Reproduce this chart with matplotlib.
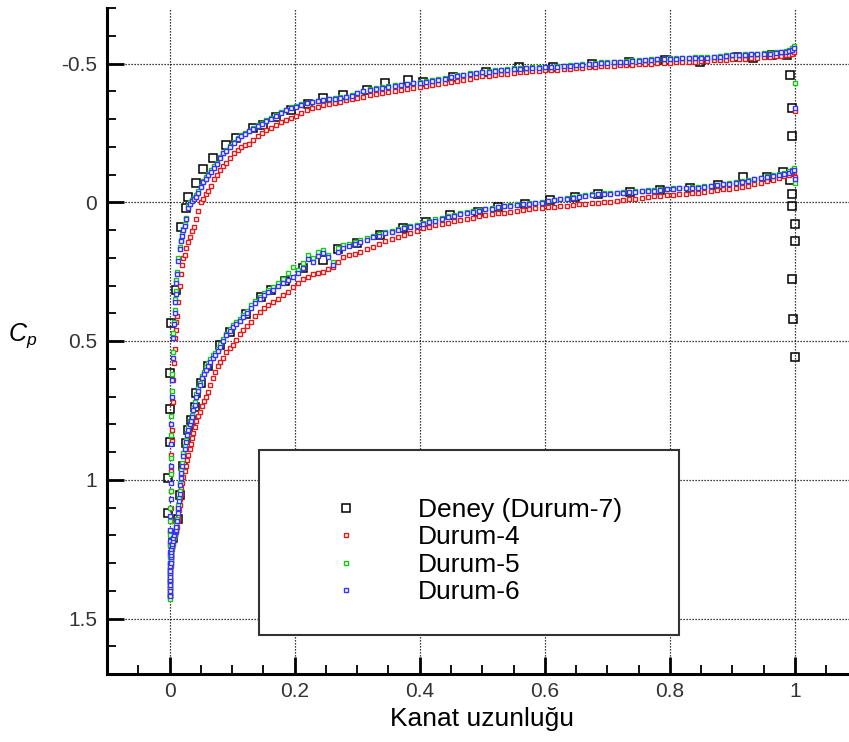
import numpy as np
import matplotlib
matplotlib.use("Agg")
import matplotlib.pyplot as plt
from matplotlib.patches import Rectangle
from matplotlib.ticker import FixedLocator, FixedFormatter, MultipleLocator

plt.rcParams['font.family'] = ['Liberation Sans', 'DejaVu Sans']
plt.rcParams['mathtext.fontset'] = 'custom'
plt.rcParams['mathtext.it'] = 'Liberation Sans:italic'
plt.rcParams['mathtext.rm'] = 'Liberation Sans'

# ---- series labels and tick labels ----
series_labels = ['Deney (Durum-7)', 'Durum-4', 'Durum-5', 'Durum-6']
x_ticks = [0, 0.2, 0.4, 0.6, 0.8, 1.0]
x_tick_labels = ['0', '0.2', '0.4', '0.6', '0.8', '1']
y_ticks = [-0.5, 0, 0.5, 1.0, 1.5]
y_tick_labels = ['-0.5', '0', '0.5', '1', '1.5']

# ---- experiment (Durum-7) ----
x_exp_upper = [-0.002, -0.003, 0.000, 0.000, 0.001, 0.003, 0.011, 0.018, 0.026, 0.030,
               0.043, 0.054, 0.070, 0.091, 0.107, 0.133, 0.149, 0.171, 0.195, 0.221,
               0.246, 0.277, 0.315, 0.344, 0.381, 0.405, 0.453, 0.506, 0.558, 0.613,
               0.675, 0.734, 0.792, 0.848, 0.907, 0.933, 0.963, 0.987, 0.992, 0.995,
               0.995]
cp_exp_upper = [1.12, 0.993, 0.864, 0.745, 0.615, 0.435, 0.317, 0.09, 0.022, -0.02,
                -0.07, -0.12, -0.16, -0.205, -0.233, -0.267, -0.28, -0.306, -0.334, -0.355,
                -0.377, -0.385, -0.406, -0.428, -0.44, -0.435, -0.45, -0.468, -0.486, -0.486,
                -0.5, -0.504, -0.511, -0.507, -0.522, -0.52, -0.53, -0.53, -0.457, -0.338,
                -0.24]
x_exp_lower = [0.005, 0.013, 0.016, 0.021, 0.027, 0.029, 0.035, 0.040, 0.043, 0.051,
               0.062, 0.080, 0.096, 0.123, 0.147, 0.163, 0.184, 0.214, 0.245, 0.270,
               0.300, 0.336, 0.373, 0.410, 0.448, 0.493, 0.525, 0.568, 0.608, 0.648,
               0.685, 0.736, 0.784, 0.832, 0.877, 0.917, 0.955, 0.981, 0.992, 0.995,
               0.995, 1.000, 1.000, 0.995, 0.997, 1.000]
cp_exp_lower = [1.21, 1.14, 1.054, 0.95, 0.867, 0.82, 0.784, 0.737, 0.687, 0.651,
                0.59, 0.515, 0.468, 0.403, 0.342, 0.317, 0.284, 0.237, 0.209, 0.17,
                0.148, 0.119, 0.094, 0.072, 0.047, 0.036, 0.018, 0.007, -0.007, -0.018,
                -0.029, -0.036, -0.043, -0.05, -0.061, -0.09, -0.09, -0.108, -0.08, -0.03,
                0.014, 0.077, 0.14, 0.277, 0.42, 0.557]

# ---- CFD surface nodes (shared by Durum-4/5/6) ----
x_upper = [0.000, 0.000, 0.000, 0.000, 0.001, 0.001, 0.001, 0.001, 0.002, 0.002,
           0.002, 0.003, 0.003, 0.004, 0.004, 0.005, 0.006, 0.007, 0.008, 0.009,
           0.010, 0.011, 0.012, 0.014, 0.016, 0.018, 0.020, 0.022, 0.024, 0.027,
           0.030, 0.033, 0.036, 0.039, 0.042, 0.046, 0.050, 0.054, 0.058, 0.062,
           0.066, 0.071, 0.076, 0.081, 0.086, 0.091, 0.097, 0.103, 0.109, 0.115,
           0.121, 0.127, 0.134, 0.141, 0.148, 0.155, 0.162, 0.170, 0.178, 0.186,
           0.194, 0.202, 0.210, 0.219, 0.228, 0.237, 0.246, 0.255, 0.264, 0.273,
           0.282, 0.291, 0.300, 0.310, 0.320, 0.330, 0.340, 0.350, 0.360, 0.370,
           0.380, 0.390, 0.400, 0.410, 0.420, 0.430, 0.440, 0.450, 0.460, 0.470,
           0.480, 0.490, 0.500, 0.510, 0.520, 0.530, 0.540, 0.550, 0.560, 0.570,
           0.580, 0.590, 0.600, 0.610, 0.620, 0.630, 0.640, 0.650, 0.660, 0.670,
           0.680, 0.690, 0.700, 0.710, 0.720, 0.730, 0.740, 0.750, 0.760, 0.770,
           0.780, 0.790, 0.800, 0.810, 0.820, 0.830, 0.840, 0.850, 0.860, 0.870,
           0.880, 0.890, 0.900, 0.910, 0.920, 0.930, 0.940, 0.950, 0.960, 0.970,
           0.978, 0.985, 0.991, 0.996, 0.999, 1.000]
x_lower = [0.000, 0.000, 0.000, 0.000, 0.001, 0.001, 0.001, 0.002, 0.002, 0.002,
           0.003, 0.003, 0.004, 0.004, 0.005, 0.006, 0.007, 0.008, 0.009, 0.010,
           0.011, 0.012, 0.013, 0.014, 0.015, 0.016, 0.017, 0.018, 0.019, 0.020,
           0.022, 0.024, 0.026, 0.028, 0.030, 0.032, 0.034, 0.036, 0.038, 0.040,
           0.043, 0.046, 0.049, 0.052, 0.055, 0.058, 0.061, 0.065, 0.069, 0.073,
           0.077, 0.081, 0.086, 0.091, 0.096, 0.101, 0.106, 0.112, 0.118, 0.124,
           0.130, 0.137, 0.144, 0.151, 0.158, 0.165, 0.173, 0.181, 0.189, 0.197,
           0.205, 0.213, 0.221, 0.229, 0.237, 0.245, 0.253, 0.261, 0.269, 0.278,
           0.287, 0.296, 0.305, 0.315, 0.325, 0.335, 0.345, 0.355, 0.365, 0.375,
           0.385, 0.395, 0.405, 0.415, 0.425, 0.435, 0.445, 0.455, 0.465, 0.475,
           0.485, 0.495, 0.505, 0.515, 0.525, 0.535, 0.545, 0.555, 0.565, 0.575,
           0.585, 0.595, 0.605, 0.615, 0.625, 0.635, 0.645, 0.655, 0.665, 0.675,
           0.685, 0.695, 0.705, 0.715, 0.725, 0.735, 0.745, 0.755, 0.765, 0.775,
           0.785, 0.795, 0.805, 0.815, 0.825, 0.835, 0.845, 0.855, 0.865, 0.875,
           0.885, 0.895, 0.905, 0.915, 0.925, 0.935, 0.945, 0.955, 0.965, 0.975,
           0.983, 0.990, 0.995, 0.999, 1.000]

# ---- Durum-4 ----
cp4_upper = [1.42, 1.39, 1.36, 1.33, 1.30, 1.27, 1.23, 1.19, 1.15, 1.10,
             1.04, 0.97, 0.91, 0.86, 0.82, 0.72, 0.64, 0.58, 0.53, 0.49,
             0.46, 0.43, 0.41, 0.36, 0.30, 0.26, 0.225, 0.20, 0.19, 0.165,
             0.145, 0.125, 0.105, 0.09, 0.06, 0.03, 0.0, -0.012, -0.028, -0.042,
             -0.058, -0.085, -0.1, -0.115, -0.13, -0.14, -0.16, -0.177, -0.19, -0.198,
             -0.205, -0.211, -0.225, -0.238, -0.25, -0.26, -0.268, -0.278, -0.288, -0.296,
             -0.304, -0.311, -0.32, -0.332, -0.341, -0.345, -0.349, -0.353, -0.358, -0.363,
             -0.368, -0.372, -0.376, -0.381, -0.386, -0.39, -0.394, -0.397, -0.401, -0.404,
             -0.408, -0.412, -0.417, -0.42, -0.423, -0.426, -0.429, -0.433, -0.437, -0.441,
             -0.445, -0.45, -0.454, -0.456, -0.458, -0.461, -0.463, -0.466, -0.468, -0.47,
             -0.472, -0.474, -0.475, -0.477, -0.478, -0.48, -0.481, -0.483, -0.484, -0.486,
             -0.488, -0.49, -0.491, -0.492, -0.494, -0.495, -0.496, -0.497, -0.498, -0.5,
             -0.501, -0.502, -0.503, -0.504, -0.505, -0.506, -0.507, -0.508, -0.509, -0.511,
             -0.512, -0.514, -0.515, -0.517, -0.518, -0.52, -0.521, -0.523, -0.524, -0.526,
             -0.528, -0.53, -0.532, -0.535, -0.54, -0.33]
cp4_lower = [1.42, 1.40, 1.39, 1.37, 1.36, 1.34, 1.32, 1.31, 1.29, 1.28,
             1.27, 1.26, 1.25, 1.24, 1.23, 1.22, 1.21, 1.20, 1.195, 1.19,
             1.18, 1.17, 1.15, 1.13, 1.11, 1.09, 1.07, 1.05, 1.03, 1.01,
             0.99, 0.97, 0.95, 0.93, 0.91, 0.89, 0.87, 0.85, 0.83, 0.81,
             0.79, 0.77, 0.755, 0.735, 0.715, 0.70, 0.685, 0.66, 0.635, 0.61,
             0.59, 0.575, 0.56, 0.54, 0.525, 0.514, 0.495, 0.475, 0.46, 0.445,
             0.43, 0.41, 0.395, 0.38, 0.37, 0.36, 0.348, 0.335, 0.322, 0.305,
             0.29, 0.278, 0.27, 0.26, 0.255, 0.25, 0.242, 0.234, 0.215, 0.198,
             0.19, 0.185, 0.178, 0.17, 0.162, 0.152, 0.14, 0.133, 0.125, 0.118,
             0.11, 0.102, 0.094, 0.088, 0.083, 0.078, 0.073, 0.068, 0.064, 0.06,
             0.055, 0.05, 0.046, 0.043, 0.04, 0.037, 0.034, 0.031, 0.028, 0.025,
             0.022, 0.02, 0.018, 0.016, 0.014, 0.012, 0.01, 0.008, 0.006, 0.004,
             0.002, 0.0, -0.002, -0.005, -0.008, -0.01, -0.013, -0.016, -0.018, -0.021,
             -0.023, -0.025, -0.026, -0.028, -0.03, -0.033, -0.035, -0.038, -0.041, -0.044,
             -0.046, -0.048, -0.051, -0.055, -0.059, -0.064, -0.069, -0.075, -0.081, -0.088,
             -0.094, -0.1, -0.105, -0.11, -0.09]

# ---- Durum-5 ----
cp5_upper = [1.42, 1.37, 1.32, 1.28, 1.24, 1.20, 1.15, 1.10, 1.04, 0.98,
             0.92, 0.84, 0.77, 0.68, 0.62, 0.54, 0.47, 0.43, 0.39, 0.35,
             0.32, 0.28, 0.25, 0.20, 0.16, 0.135, 0.115, 0.095, 0.08, 0.055,
             0.015, 0.0, -0.008, -0.015, -0.025, -0.042, -0.06, -0.075, -0.09, -0.102,
             -0.115, -0.13, -0.143, -0.162, -0.178, -0.19, -0.204, -0.217, -0.232, -0.241,
             -0.25, -0.258, -0.268, -0.278, -0.287, -0.296, -0.304, -0.316, -0.326, -0.334,
             -0.342, -0.347, -0.353, -0.358, -0.362, -0.366, -0.37, -0.373, -0.376, -0.379,
             -0.381, -0.387, -0.394, -0.402, -0.407, -0.411, -0.415, -0.419, -0.421, -0.424,
             -0.427, -0.43, -0.433, -0.437, -0.44, -0.443, -0.446, -0.452, -0.457, -0.46,
             -0.464, -0.467, -0.47, -0.472, -0.475, -0.477, -0.479, -0.482, -0.483, -0.485,
             -0.486, -0.487, -0.488, -0.489, -0.491, -0.492, -0.493, -0.495, -0.498, -0.5,
             -0.502, -0.504, -0.505, -0.506, -0.507, -0.509, -0.511, -0.512, -0.513, -0.515,
             -0.517, -0.518, -0.52, -0.52, -0.521, -0.521, -0.522, -0.522, -0.523, -0.525,
             -0.527, -0.529, -0.531, -0.532, -0.534, -0.535, -0.536, -0.537, -0.538, -0.54,
             -0.543, -0.545, -0.549, -0.555, -0.563, -0.43]
cp5_lower = [1.43, 1.41, 1.39, 1.37, 1.355, 1.34, 1.32, 1.30, 1.29, 1.275,
             1.265, 1.255, 1.245, 1.235, 1.225, 1.215, 1.205, 1.195, 1.185, 1.175,
             1.16, 1.14, 1.11, 1.09, 1.065, 1.04, 1.01, 0.985, 0.965, 0.94,
             0.905, 0.88, 0.855, 0.83, 0.81, 0.79, 0.78, 0.765, 0.74, 0.72,
             0.69, 0.67, 0.65, 0.625, 0.61, 0.595, 0.58, 0.565, 0.552, 0.542,
             0.528, 0.512, 0.493, 0.473, 0.458, 0.443, 0.433, 0.42, 0.407, 0.392,
             0.372, 0.355, 0.34, 0.328, 0.318, 0.305, 0.29, 0.277, 0.255, 0.232,
             0.245, 0.22, 0.19, 0.2, 0.178, 0.173, 0.19, 0.216, 0.165, 0.155,
             0.15, 0.143, 0.137, 0.13, 0.123, 0.116, 0.108, 0.102, 0.096, 0.09,
             0.085, 0.081, 0.075, 0.068, 0.062, 0.056, 0.05, 0.045, 0.04, 0.035,
             0.031, 0.027, 0.023, 0.02, 0.016, 0.013, 0.01, 0.007, 0.005, 0.003,
             0.001, -0.002, -0.005, -0.009, -0.012, -0.015, -0.019, -0.022, -0.025, -0.028,
             -0.031, -0.032, -0.033, -0.035, -0.037, -0.038, -0.04, -0.041, -0.043, -0.045,
             -0.047, -0.049, -0.051, -0.052, -0.053, -0.054, -0.056, -0.058, -0.06, -0.063,
             -0.066, -0.07, -0.073, -0.077, -0.081, -0.085, -0.089, -0.093, -0.097, -0.102,
             -0.106, -0.111, -0.117, -0.125, -0.07]

# ---- Durum-6 ----
cp6_upper = [1.41, 1.38, 1.34, 1.30, 1.26, 1.22, 1.18, 1.13, 1.07, 1.01,
             0.95, 0.87, 0.80, 0.70, 0.64, 0.56, 0.49, 0.44, 0.40, 0.36,
             0.33, 0.29, 0.26, 0.21, 0.17, 0.14, 0.12, 0.10, 0.085, 0.06,
             0.02, 0.005, -0.003, -0.01, -0.018, -0.035, -0.055, -0.072, -0.085, -0.098,
             -0.11, -0.125, -0.138, -0.158, -0.176, -0.185, -0.2, -0.212, -0.228, -0.237,
             -0.246, -0.255, -0.263, -0.274, -0.283, -0.292, -0.3, -0.311, -0.322, -0.331,
             -0.339, -0.344, -0.35, -0.356, -0.36, -0.364, -0.368, -0.371, -0.373, -0.376,
             -0.378, -0.384, -0.392, -0.4, -0.405, -0.409, -0.413, -0.417, -0.419, -0.422,
             -0.425, -0.428, -0.431, -0.435, -0.438, -0.441, -0.444, -0.45, -0.455, -0.458,
             -0.462, -0.465, -0.468, -0.47, -0.473, -0.475, -0.477, -0.48, -0.481, -0.483,
             -0.484, -0.485, -0.486, -0.487, -0.489, -0.49, -0.491, -0.493, -0.496, -0.498,
             -0.5, -0.502, -0.503, -0.504, -0.505, -0.507, -0.509, -0.51, -0.511, -0.513,
             -0.515, -0.516, -0.518, -0.518, -0.519, -0.519, -0.52, -0.52, -0.521, -0.523,
             -0.525, -0.527, -0.529, -0.53, -0.532, -0.533, -0.534, -0.535, -0.536, -0.538,
             -0.54, -0.541, -0.544, -0.549, -0.555, -0.34]
cp6_lower = [1.42, 1.40, 1.38, 1.36, 1.35, 1.33, 1.31, 1.30, 1.28, 1.27,
             1.26, 1.25, 1.24, 1.23, 1.22, 1.21, 1.20, 1.19, 1.185, 1.18,
             1.17, 1.15, 1.12, 1.10, 1.075, 1.05, 1.02, 0.995, 0.975, 0.95,
             0.915, 0.89, 0.865, 0.84, 0.82, 0.80, 0.79, 0.775, 0.75, 0.73,
             0.70, 0.68, 0.66, 0.635, 0.62, 0.605, 0.59, 0.575, 0.56, 0.55,
             0.535, 0.52, 0.50, 0.48, 0.465, 0.45, 0.44, 0.428, 0.415, 0.40,
             0.38, 0.362, 0.347, 0.335, 0.325, 0.315, 0.3, 0.29, 0.28, 0.27,
             0.255, 0.237, 0.205, 0.216, 0.195, 0.184, 0.198, 0.227, 0.178, 0.165,
             0.158, 0.15, 0.143, 0.135, 0.127, 0.12, 0.112, 0.106, 0.1, 0.094,
             0.089, 0.085, 0.079, 0.072, 0.066, 0.06, 0.054, 0.048, 0.043, 0.038,
             0.034, 0.03, 0.026, 0.023, 0.018, 0.015, 0.012, 0.009, 0.007, 0.005,
             0.003, 0.001, -0.003, -0.007, -0.01, -0.013, -0.017, -0.02, -0.023, -0.027,
             -0.029, -0.03, -0.031, -0.032, -0.034, -0.036, -0.037, -0.039, -0.04, -0.042,
             -0.043, -0.046, -0.049, -0.05, -0.05, -0.051, -0.053, -0.055, -0.058, -0.061,
             -0.064, -0.067, -0.07, -0.074, -0.078, -0.082, -0.086, -0.09, -0.094, -0.098,
             -0.102, -0.107, -0.112, -0.118, -0.085]

# ---- figure ----
W, H = 849, 742
fig = plt.figure(figsize=(W / 100, H / 100), dpi=100)
ax = fig.add_axes([107 / W, 1 - 674 / H, (W - 107) / W, (674 - 8) / H])

ax.set_xlim(-0.1, (W - 170) / 625)
ax.set_ylim(1.7, -0.7)
ax.set_axisbelow(True)

series = [
    (x_exp_upper + x_exp_lower, cp_exp_upper + cp_exp_lower, 'black', 5.6, 1.1, 'none'),
    (x_upper + x_lower, cp4_upper + cp4_lower, '#e41a1a', 3.4, 1.0, 'white'),
    (x_upper + x_lower, cp5_upper + cp5_lower, '#14c814', 3.4, 1.0, 'white'),
    (x_upper + x_lower, cp6_upper + cp6_lower, '#3434ff', 3.4, 1.0, 'white'),
]
handles = []
for (xs, ys, col, ms, mew, mfc), lab in zip(series, series_labels):
    h, = ax.plot(xs, ys, linestyle='none', marker='s', markersize=ms,
                 markeredgewidth=mew, markeredgecolor=col, markerfacecolor=mfc,
                 label=lab, zorder=4)
    handles.append(h)

# axes styling
for side in ('top', 'right'):
    ax.spines[side].set_visible(False)
for side in ('left', 'bottom'):
    ax.spines[side].set_linewidth(2.2)

ax.xaxis.set_major_locator(FixedLocator(x_ticks))
ax.xaxis.set_major_formatter(FixedFormatter(x_tick_labels))
ax.yaxis.set_major_locator(FixedLocator(y_ticks))
ax.yaxis.set_major_formatter(FixedFormatter(y_tick_labels))
ax.xaxis.set_minor_locator(MultipleLocator(0.05))
ax.yaxis.set_minor_locator(MultipleLocator(0.1))
ax.tick_params(which='major', direction='in', length=12, width=2.0,
               labelsize=15, labelcolor='#333333', pad=7)
ax.tick_params(which='minor', direction='in', length=6.5, width=1.3)
ax.tick_params(axis='x', which='major', pad=6)

ax.grid(True, which='major', color='black', linestyle=(0, (1, 1.4)), linewidth=0.9)

ax.set_xlabel('Kanat uzunluğu', fontsize=19)
ax.xaxis.set_label_coords((482 - 107) / (W - 107), (674 - 719) / (674 - 8))
ax.xaxis.label.set_va('center')
ax.set_ylabel('$C_p$', fontsize=18, rotation=0)
ax.yaxis.set_label_coords((23 - 107) / (W - 107), (674 - 336) / (674 - 8))
ax.yaxis.label.set_va('center')
ax.yaxis.label.set_ha('center')

# legend box
box = Rectangle((259 / W, 1 - 635 / H), 420 / W, 185 / H, transform=fig.transFigure,
                facecolor='white', edgecolor='#333333', linewidth=1.5, zorder=3)
ax.add_artist(box)
box.set_clip_on(False)

fs = 19
fs_px = fs * 100 / 72
leg = ax.legend(handles=handles, loc='upper left', frameon=False,
                bbox_to_anchor=((346 - fs_px / 2) / W, 1 - 498 / H),
                bbox_transform=fig.transFigure, borderpad=0, borderaxespad=0,
                handlelength=1.0, handletextpad=(418 - 346 - fs_px / 2) / fs_px,
                labelspacing=0.13, fontsize=fs, markerscale=1.0)
leg.set_zorder(5)

fig.savefig('out.png', dpi=100)
